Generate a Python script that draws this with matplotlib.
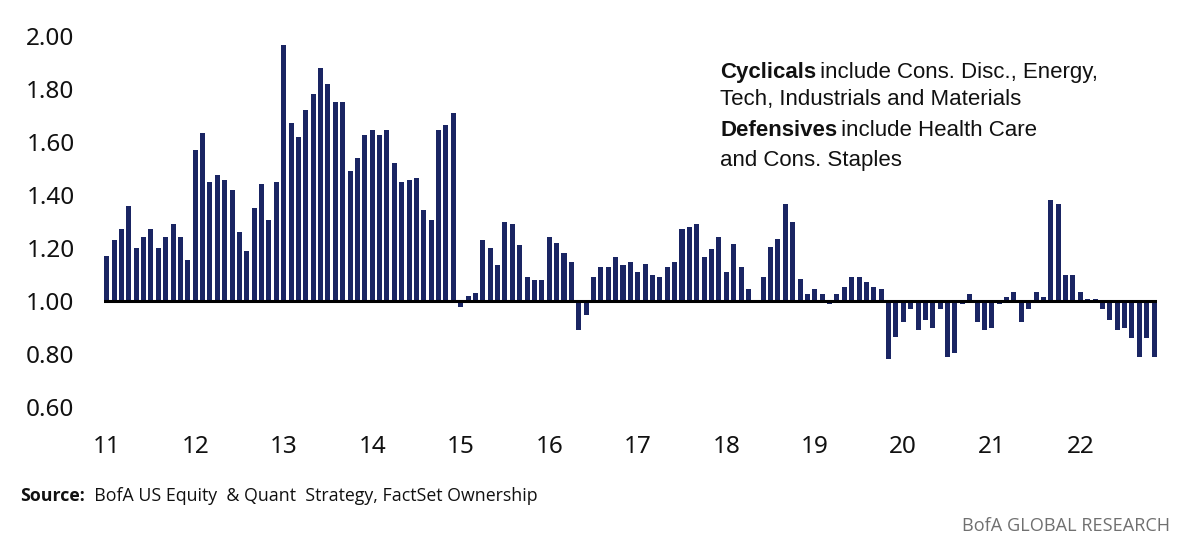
import matplotlib
matplotlib.use("Agg")
import matplotlib.pyplot as plt
import numpy as np

# monthly ratio, Jan 2011 .. Nov 2022
ratio = [
    1.17, 1.23, 1.27, 1.36, 1.20, 1.24, 1.27, 1.20, 1.24, 1.29, 1.24, 1.155,
    1.57, 1.635, 1.45, 1.475, 1.455, 1.42, 1.26, 1.19, 1.35, 1.44, 1.305, 1.45,
    1.965, 1.67, 1.62, 1.72, 1.78, 1.88, 1.82, 1.75, 1.75, 1.49, 1.54, 1.625,
    1.645, 1.625, 1.645, 1.52, 1.45, 1.455, 1.465, 1.343, 1.305, 1.645, 1.665, 1.71,
    0.976, 1.02, 1.03, 1.23, 1.20, 1.135, 1.297, 1.29, 1.21, 1.09, 1.08, 1.08,
    1.24, 1.22, 1.18, 1.146, 0.89, 0.948, 1.09, 1.127, 1.127, 1.165, 1.137, 1.148,
    1.109, 1.138, 1.10, 1.09, 1.13, 1.149, 1.27, 1.28, 1.29, 1.167, 1.195, 1.243,
    1.109, 1.214, 1.13, 1.044, 1.005, 1.09, 1.205, 1.233, 1.365, 1.30, 1.082, 1.025,
    1.044, 1.025, 0.989, 1.025, 1.054, 1.09, 1.09, 1.072, 1.054, 1.044, 0.78, 0.865,
    0.92, 0.97, 0.89, 0.93, 0.90, 0.97, 0.787, 0.805, 0.99, 1.025, 0.92, 0.89,
    0.90, 0.99, 1.015, 1.034, 0.92, 0.97, 1.034, 1.015, 1.383, 1.365, 1.10, 1.10,
    1.034, 1.007, 1.007, 0.97, 0.93, 0.89, 0.90, 0.86, 0.787, 0.86, 0.787,
]
year_labels = ["11", "12", "13", "14", "15", "16", "17", "18", "19", "20", "21", "22"]
y_ticks = [0.6, 0.8, 1.0, 1.2, 1.4, 1.6, 1.8, 2.0]

W, H = 1188, 553
fig = plt.figure(figsize=(W / 100, H / 100), dpi=100)
ax = fig.add_axes([103.75 / W, 1 - 407 / H, (1157 - 103.75) / W, (407 - 36) / H])

x = np.arange(len(ratio))
vals = np.array(ratio)
ax.bar(x, vals - 1.0, bottom=1.0, width=0.68, color="#1a2563", linewidth=0)
ax.axhline(1.0, color="black", lw=2.2, zorder=3)

ax.set_xlim(-0.4, 142.4)
ax.set_ylim(0.6, 2.0)
ax.set_yticks(y_ticks)
ax.set_yticklabels([f"{v:.2f}" for v in y_ticks])
ax.set_xticks(np.arange(len(year_labels)) * 12)
ax.set_xticklabels(year_labels)
for s in ax.spines.values():
    s.set_visible(False)
ax.tick_params(axis="y", length=0, pad=21, labelsize=17.5, labelcolor="#111111")
ax.tick_params(axis="x", length=0, pad=20, labelsize=17.5, labelcolor="#111111")
for lab in ax.get_xticklabels() + ax.get_yticklabels():
    lab.set_fontfamily("Noto Sans")


def fx(px):
    return px / W


def fy(py):
    return 1 - py / H


fig.canvas.draw()
renderer = fig.canvas.get_renderer()


def two_part(xpx, ypx, bold, rest, size, family, color="#111111", gap=0):
    t = fig.text(fx(xpx), fy(ypx), bold, fontsize=size, fontweight="bold",
                 family=family, color=color, va="baseline", ha="left")
    bb = t.get_window_extent(renderer=renderer)
    fig.text(fx(bb.x1 + gap), fy(ypx), rest, fontsize=size, family=family,
             color=color, va="baseline", ha="left")


note_font = "Liberation Sans"
note_size = 16
two_part(720, 78, "Cyclicals", " include Cons. Disc., Energy,", note_size, note_font, gap=-2)
fig.text(fx(720), fy(105), "Tech, Industrials and Materials", fontsize=note_size,
         family=note_font, color="#111111", va="baseline")
two_part(720, 136, "Defensives", " include Health Care", note_size, note_font, gap=-2)
fig.text(fx(720), fy(166), "and Cons. Staples", fontsize=note_size,
         family=note_font, color="#111111", va="baseline")

two_part(20, 501, "Source:", "  BofA US Equity  & Quant  Strategy, FactSet Ownership",
         12.8, "Open Sans")
fig.text(fx(1170), fy(531), "BofA GLOBAL RESEARCH", fontsize=13.1,
         family="Open Sans", color="#707070", va="baseline", ha="right")

fig.savefig("out.png", dpi=100)
